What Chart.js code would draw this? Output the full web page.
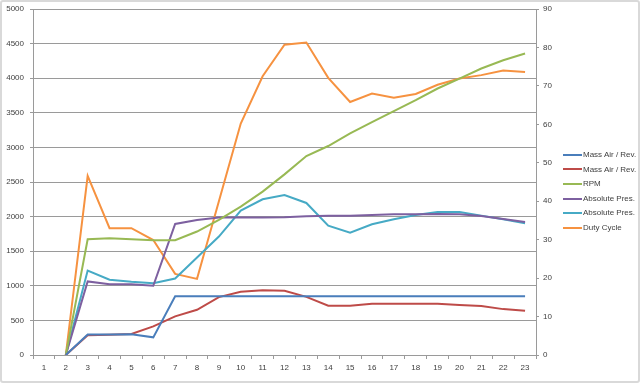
<!DOCTYPE html>
<html>
<head>
<meta charset="utf-8">
<script src="https://cdn.jsdelivr.net/npm/chart.js@4.4.1/dist/chart.umd.min.js"></script>
<style>
    body { margin: 0; background: #fff; }
    #wrap { position: relative; width: 640px; height: 383px; }
    #frame { position: absolute; left: 0; top: 0; width: 636px; height: 379px; border: 2px solid #d9d9d9; border-radius: 3px; pointer-events: none; }
    #legend { position: absolute; left: 563px; top: 148px; font: 8px "Liberation Sans", Arial, sans-serif; color: #404040; }
    .row { height: 14.6px; line-height: 14px; white-space: nowrap; }
    .swatch { display: inline-block; width: 19px; height: 2px; vertical-align: middle; margin-right: 1px; }
</style>
</head>
<body>
<div id="wrap">
    <canvas id="chart" width="640" height="383"></canvas>
    <div id="legend"></div>
    <div id="frame"></div>
</div>
<script>
const categories = ['1', '2', '3', '4', '5', '6', '7', '8', '9', '10', '11', '12', '13', '14', '15', '16', '17', '18', '19', '20', '21', '22', '23'];

const massAir1 = [null, 0, 295, 295, 300, 255, 848, 848, 848, 848, 848, 848, 848, 848, 848, 848, 848, 848, 848, 848, 848, 848, 848];
const massAir2 = [null, 0, 285, 293, 303, 413, 558, 654, 837, 913, 937, 928, 840, 711, 711, 740, 740, 740, 740, 721, 707, 663, 639];
const rpm = [null, 0, 1673, 1688, 1673, 1659, 1659, 1784, 1952, 2144, 2361, 2610, 2875, 3020, 3202, 3365, 3524, 3682, 3851, 3995, 4140, 4259, 4356];
const absPres1 = [null, 0, 1063, 1024, 1024, 1000, 1894, 1952, 1986, 1986, 1986, 1990, 2005, 2014, 2014, 2024, 2034, 2034, 2038, 2034, 2010, 1966, 1923];
const absPres2 = [null, 0, 1221, 1087, 1058, 1038, 1106, 1409, 1712, 2087, 2250, 2313, 2197, 1870, 1769, 1890, 1962, 2024, 2067, 2067, 2014, 1962, 1904];
const dutyCycle = [null, 0, 46.6, 33.0, 33.0, 29.9, 21.1, 19.8, 40.0, 60.2, 72.5, 80.7, 81.3, 72.1, 65.8, 68.0, 66.9, 67.9, 70.3, 71.9, 72.8, 74.0, 73.6];

const seriesNames = ['Mass Air / Rev.', 'Mass Air / Rev.', 'RPM', 'Absolute Pres.', 'Absolute Pres.', 'Duty Cycle'];
const seriesColors = ['#4a7ebb', '#be4b48', '#98b954', '#7d60a0', '#46aac5', '#f69240'];
const seriesData = [massAir1, massAir2, rpm, absPres1, absPres2, dutyCycle];
const seriesAxis = ['y', 'y', 'y', 'y', 'y', 'y1'];

const gridColor = '#9a9a9a';
const tickFont = { family: 'Liberation Sans', size: 8 };

const datasets = seriesData.map((data, i) => ({
    label: seriesNames[i],
    data: data,
    yAxisID: seriesAxis[i],
    borderColor: seriesColors[i],
    backgroundColor: seriesColors[i],
    borderWidth: 2,
    pointRadius: 0,
    tension: 0,
    fill: false,
}));

const chart = new Chart(document.getElementById('chart'), {
    type: 'line',
    data: { labels: categories, datasets: datasets },
    options: {
        responsive: false,
        animation: false,
        layout: { padding: { left: 0, right: 0, top: 9, bottom: 0 } },
        plugins: { legend: { display: false }, tooltip: { enabled: false } },
        scales: {
            x: {
                offset: true,
                grid: { display: true, offset: true, drawOnChartArea: false, drawTicks: true, tickLength: 4, color: gridColor },
                border: { color: gridColor },
                ticks: { color: '#404040', font: tickFont, padding: 4, maxRotation: 0, autoSkip: false },
                afterFit: (scale) => { scale.height = 28; },
            },
            y: {
                position: 'left',
                min: 0,
                max: 5000,
                ticks: { stepSize: 500, color: '#404040', font: tickFont, padding: 6, callback: (v) => String(v) },
                grid: { color: gridColor, tickLength: 3 },
                border: { color: gridColor },
                afterFit: (scale) => { scale.width = 33; scale.paddingTop = 0; scale.paddingBottom = 0; },
            },
            y1: {
                position: 'right',
                min: 0,
                max: 90,
                ticks: { stepSize: 10, color: '#404040', font: tickFont, padding: 4, callback: (v) => String(v) },
                grid: { drawOnChartArea: false, color: gridColor, tickLength: 3 },
                border: { color: gridColor },
                afterFit: (scale) => { scale.width = 104; scale.paddingTop = 0; scale.paddingBottom = 0; },
            },
        },
    },
});

const legend = document.getElementById('legend');
seriesNames.forEach((name, i) => {
    const row = document.createElement('div');
    row.className = 'row';
    row.innerHTML = '<span class="swatch" style="background:' + seriesColors[i] + '"></span>' + name;
    legend.appendChild(row);
});
</script>
</body>
</html>
